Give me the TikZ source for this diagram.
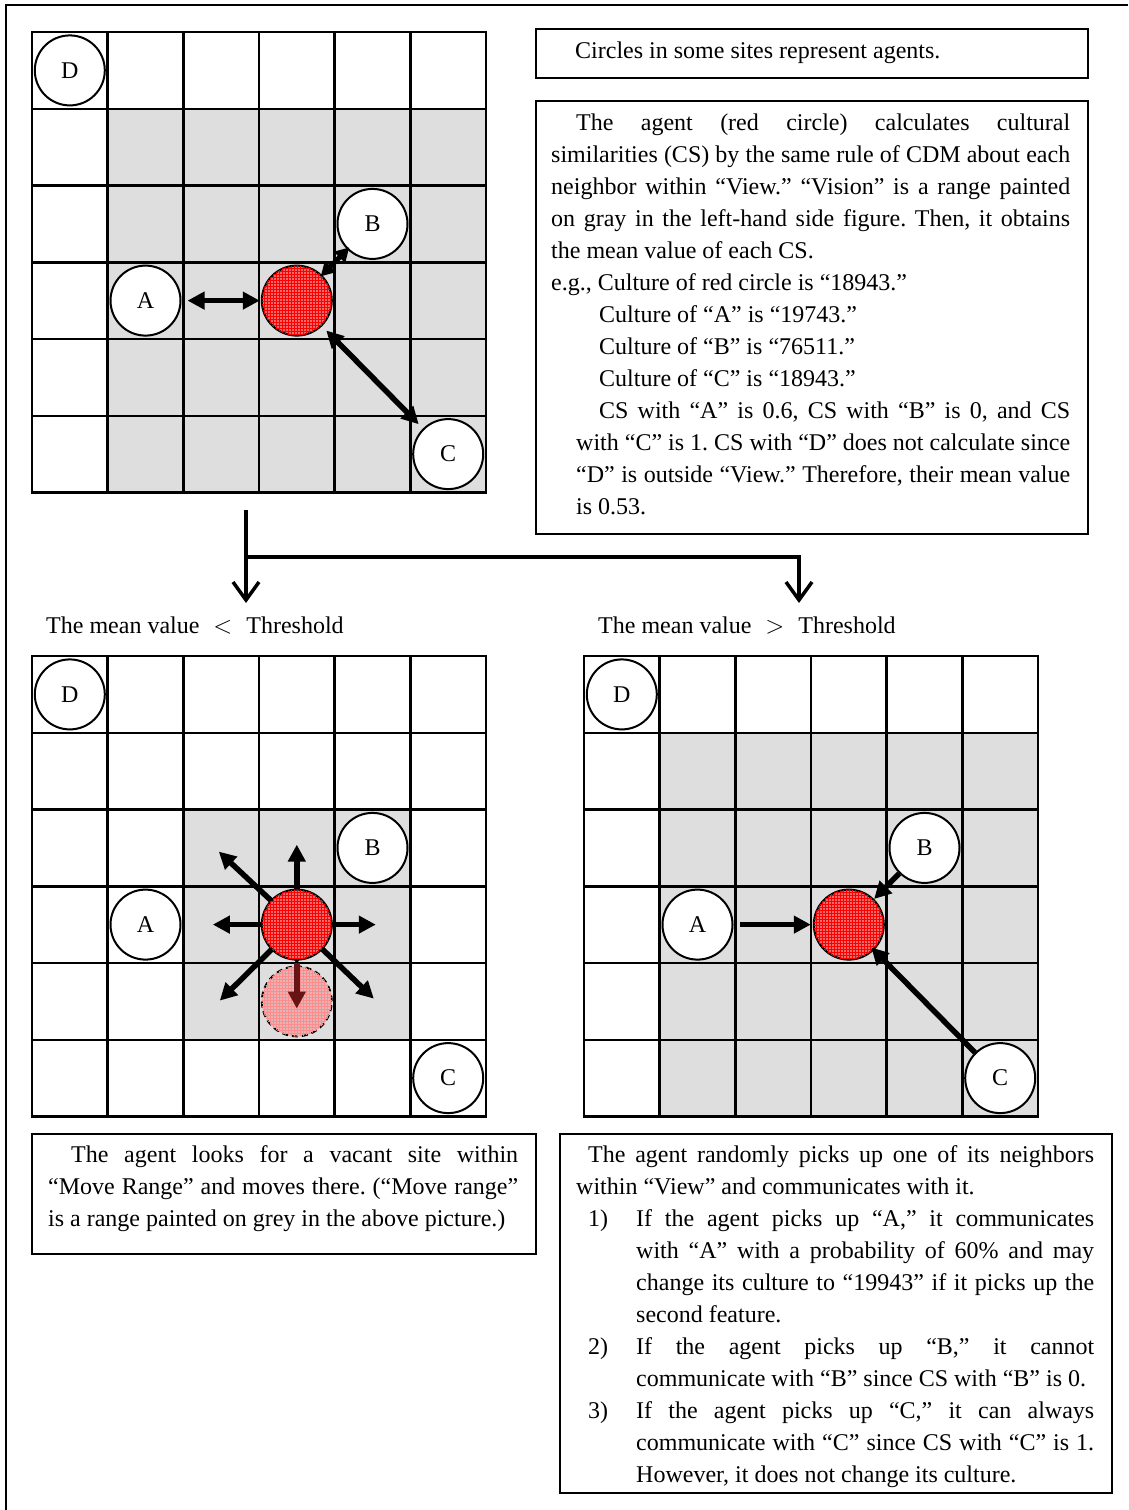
\documentclass[tikz,border=0pt]{standalone}
\usepackage{fontspec}
\setmainfont{Liberation Serif}
\usetikzlibrary{arrows.meta,patterns}
\definecolor{agentred}{RGB}{244,105,105}
\definecolor{ghostred}{RGB}{240,120,120}
\definecolor{cellgrey}{RGB}{222,222,222}
\definecolor{darkarrow}{RGB}{105,20,20}
\newcommand\JLine[2][0pt]{\hbox to \hsize{\hspace*{#1}#2}}
\newcommand\RLine[2][0pt]{\hbox to \hsize{\hspace*{#1}#2\hfil}}
\frenchspacing
\begin{document}
\begin{tikzpicture}[x=1pt,y=-1pt,
  gridline/.style={line width=2.5pt,line cap=rect},
  agent/.style={circle,draw,line width=2pt,fill=white,minimum size=70pt,inner sep=0pt,font=\fontsize{24}{28}\selectfont},
  redagent/.style={circle,draw,line width=2pt,minimum size=70pt,inner sep=0pt,fill=agentred,postaction={pattern=grid,pattern color=red}},
  ghost/.style={circle,draw,line width=1.8pt,dash pattern=on 6pt off 4pt,minimum size=70pt,inner sep=0pt,fill=ghostred,fill opacity=0.4,draw opacity=1,postaction={pattern=grid,pattern color=red!45}},
  fat/.style={line width=5.5pt,-{Triangle[length=17pt,width=17pt]}},
  fatboth/.style={line width=5.5pt,{Triangle[length=17pt,width=17pt]}-{Triangle[length=17pt,width=17pt]}},
  flow/.style={line width=3.5pt,-{Straight Barb[length=18pt,width=26pt]}},
  box/.style={draw,line width=2pt,inner sep=0pt},
  txt/.style={inner sep=0pt,anchor=base west,font=\fontsize{24}{32}\selectfont}]
\useasboundingbox (0,0) rectangle (1128,1510);

% outer frame
\draw[line width=2.5pt] (6,1510) -- (6,5) -- (1128,5);

% grey regions
\fill[cellgrey] (107.67,108.75) rectangle (486,492.5);
\fill[cellgrey] (183.33,809.5) rectangle (411,1039.75);
\fill[cellgrey] (659.67,732.75) rectangle (1038,1116.5);

% grids
\foreach \ox/\oy in {32/32,32/656,584/656}{
  \foreach \k in {0,...,6}{
    \draw[gridline] ({\ox+\k*75.667},\oy) -- ({\ox+\k*75.667},{\oy+460.5});
    \draw[gridline] (\ox,{\oy+\k*76.75}) -- ({\ox+454},{\oy+\k*76.75});
  }
}

% ---------- top grid ----------
\node[agent] (D1) at (69.8,70.4) {D};
\node[agent] (A1) at (145.5,300.6) {A};
\node[redagent] (R1) at (296.8,300.6) {};
\node[agent] (B1) at (372.5,223.9) {B};
\node[agent] (C1) at (448.2,454.1) {C};
\draw[fatboth,shorten <=6pt,shorten >=1pt] (A1) -- (R1);
\draw[line width=5pt,{Triangle[length=14pt,width=15pt]}-{Triangle[length=14pt,width=15pt]},shorten <=-2pt,shorten >=-3pt] (R1) -- (B1);
\draw[fatboth,shorten <=6pt,shorten >=6pt] (R1) -- (C1);

% ---------- bottom-left grid ----------
\node[agent] (D2) at (69.8,694.4) {D};
\node[agent] (A2) at (145.5,924.6) {A};
\node[agent] (B2) at (372.5,847.9) {B};
\node[agent] (C2) at (448.2,1078.1) {C};
\coordinate (m) at (296.8,924.6);
\draw[fat] (m) -- ++(0,-80);
\draw[fat] (m) -- ++(-84,0);
\draw[fat] (m) -- ++(79,0);
\draw[fat] (m) -- ++(-78,-73);
\draw[fat] (m) -- ++(-77,76);
\draw[fat] (m) -- ++(77,74);
\node[ghost] (G2) at (296.8,1001.4) {};
\draw[fat] (m) -- ++(0,40);
\draw[fat,draw=darkarrow,fill=darkarrow,shorten <=38pt] (m) -- ++(0,84);
\node[redagent] (R2) at (m) {};

% ---------- bottom-right grid ----------
\node[agent] (D3) at (621.8,694.4) {D};
\node[agent] (A3) at (697.5,924.6) {A};
\node[redagent] (R3) at (848.8,924.6) {};
\node[agent] (B3) at (924.5,847.9) {B};
\node[agent] (C3) at (1000.2,1078.1) {C};
\draw[fat,shorten <=6pt,shorten >=2pt] (A3) -- (R3);
\draw[fat] (B3) -- (R3);
\draw[fat,shorten >=-4pt] (C3) -- (R3);

% ---------- flow connector ----------
\coordinate (fork) at (246,510);
\coordinate (junc) at (246,557);
\coordinate (lo) at (246,603);
\coordinate (ro) at (799,603);
\draw[flow] (fork) -- (lo);
\draw[flow] (junc) -| (ro);

\node[txt] (lblL) at (46,633) {The mean value\hspace{14pt}$<$\hspace{14pt}Threshold};
\node[txt] (lblR) at (598,633) {The mean value\hspace{14pt}$>$\hspace{14pt}Threshold};

% ---------- boxes ----------
\node[box,anchor=north west,minimum width=552pt,minimum height=49pt] (box1) at (535,28) {};
\node[box,anchor=north west,minimum width=552pt,minimum height=433pt] (box2) at (535,100) {};
\node[box,anchor=north west,minimum width=504pt,minimum height=120pt] (box3) at (31,1133) {};
\node[box,anchor=north west,minimum width=552pt,minimum height=359pt] (box4) at (559,1133) {};

\node[txt] (t1) at (575,58) {Circles in some sites represent agents.};

\node[txt] (t2) at (551,130) {\parbox[t]{519pt}{\fontsize{24}{32}\selectfont
\JLine[25pt]{The agent (red circle) calculates cultural}
\JLine{similarities (CS) by the same rule of CDM about each}
\JLine{neighbor within “View.” “Vision” is a range painted}
\JLine{on gray in the left-hand side figure. Then, it obtains}
\RLine{the mean value of each CS.}
\RLine{e.g., Culture of red circle is “18943.”}
\RLine[48pt]{Culture of “A” is “19743.”}
\RLine[48pt]{Culture of “B” is “76511.”}
\RLine[48pt]{Culture of “C” is “18943.”}
\JLine[48pt]{CS with “A” is 0.6, CS with “B” is 0, and CS}
\JLine[25pt]{with “C” is 1. CS with “D” does not calculate since}
\JLine[25pt]{“D” is outside “View.” Therefore, their mean value}
\RLine[25pt]{is 0.53.}
}};

\node[txt] (t3) at (48,1162) {\parbox[t]{470pt}{\fontsize{24}{32}\selectfont
\JLine[23pt]{The agent looks for a vacant site within}
\JLine{“Move Range” and moves there. (“Move range”}
\RLine{is a range painted on grey in the above picture.)}
}};

\node[txt] (t4) at (576,1162) {\parbox[t]{518pt}{\fontsize{24}{32}\selectfont
\JLine[12pt]{The agent randomly picks up one of its neighbors}
\RLine{within “View” and communicates with it.}
\JLine{\makebox[60pt][l]{\hspace*{12pt}1)}If the agent picks up “A,” it communicates}
\JLine[60pt]{with “A” with a probability of 60\% and may}
\JLine[60pt]{change its culture to “19943” if it picks up the}
\RLine[60pt]{second feature.}
\JLine{\makebox[60pt][l]{\hspace*{12pt}2)}If the agent picks up “B,” it cannot}
\RLine[60pt]{communicate with “B” since CS with “B” is 0.}
\JLine{\makebox[60pt][l]{\hspace*{12pt}3)}If the agent picks up “C,” it can always}
\JLine[60pt]{communicate with “C” since CS with “C” is 1.}
\RLine[60pt]{However, it does not change its culture.}
}};
\end{tikzpicture}
\end{document}
